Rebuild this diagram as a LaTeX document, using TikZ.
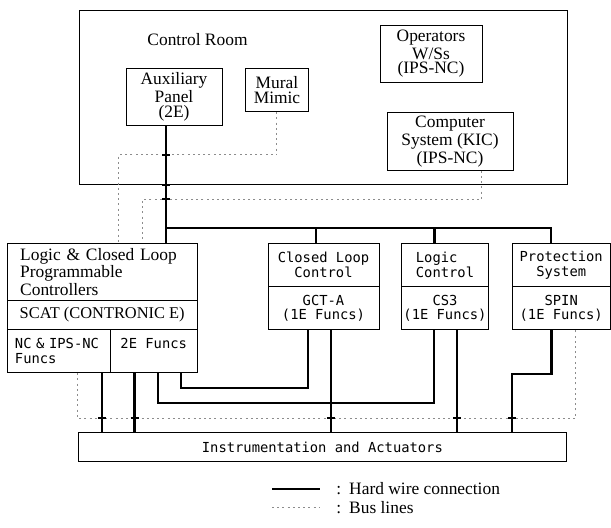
\documentclass[tikz,border=0pt]{standalone}
\usepackage{fontspec}
\setmainfont{Liberation Serif}
\setmonofont{DejaVu Sans Mono}
\usetikzlibrary{calc}
\newcommand{\pxu}{0.5pt}
\newcommand{\serifsize}{\fontsize{8.7}{7.4}\selectfont}
\newcommand{\monosize}{\fontsize{6.9}{7.4}\selectfont\ttfamily}
\newcommand{\panel}[6][]{%
  \node[box, minimum width=#4*\pxu, minimum height=#5*\pxu, #1] (#2) at #3 {#6};
}
\newcommand{\crossmark}[1]{%
  \draw[hardwire] ($#1+(-4,0)$) -- ($#1+(4,0)$);
}

\begin{document}
\begin{tikzpicture}[x=0.5pt, y=-0.5pt,
    box/.style={draw, line width=0.5pt, inner sep=0pt, align=center, font=\serifsize},
    mono/.style={font=\monosize},
    hardwire/.style={line width=1.1pt},
    busline/.style={black!45, line width=0.5pt, dash pattern=on 1pt off 1.6pt}]
  \useasboundingbox (0,0) rectangle (611,528);
  \panel{room}{(323,97.2)}{488}{174.3}{}
  \node[font=\serifsize] (roomlbl) at (197.5,40) {Control Room};
  \panel{ops}{(431,53.9)}{102}{57.7}{Operators\\W/Ss\\(IPS-NC)}
  \panel{aux}{(174,97)}{96}{57.4}{Auxiliary\\Panel\\(2E)}
  \panel{mural}{(277,90)}{63}{43.4}{Mural\\Mimic}
  \panel{kic}{(450,141.3)}{126}{58}{Computer\\System (KIC)\\(IPS-NC)}
  \panel[text width=164*\pxu, align=left]{lclp}{(102.2,271.9)}{190.3}{57.7}{Logic \& Closed Loop\\Programmable\\Controllers}
  \panel[font=\fontsize{8.2}{7.4}\selectfont]{scat}{(102.2,315)}{190.3}{28.6}{SCAT (CONTRONIC E)}
  \panel[mono, text width=87*\pxu, align=left]{ncf}{(58.5,351)}{103}{43.4}{NC \& IPS-NC\\Funcs}
  \panel[mono]{tef}{(153.7,351)}{87.3}{43.4}{2E Funcs\\\mbox{}}
  \panel[mono]{clc}{(323.5,265)}{111}{43.4}{Closed Loop\\Control}
  \panel[mono]{clcf}{(323.5,308.3)}{111}{43.3}{GCT-A\\(1E Funcs)}
  \panel[mono, align=left]{lc}{(445,265)}{86.5}{43.4}{Logic\\Control}
  \panel[mono]{lcf}{(445,308.3)}{86.5}{43.3}{CS3\\(1E Funcs)}
  \panel[mono]{ps}{(561.2,265)}{97.7}{43.4}{Protection\\System}
  \panel[mono]{psf}{(561.2,308.3)}{97.7}{43.3}{SPIN\\(1E Funcs)}
  \panel[mono]{instr}{(322.4,447.3)}{488.2}{29.3}{Instrumentation and Actuators}
  % hard wires
  \coordinate (hw0) at (166,228.3);
  \coordinate (hw1) at (315.7,228.3);
  \coordinate (hw2) at (434.5,228.3);
  \coordinate (hw3) at (550.7,228.3);
  \draw[hardwire] (hw0 |- aux.south) -- (hw0 |- lclp.north);
  \draw[hardwire] (hw0) -- (hw3) -- (hw3 |- ps.north);
  \draw[hardwire] (hw1) -- (hw1 |- clc.north);
  \draw[hardwire] (hw2) -- (hw2 |- lc.north);
  \coordinate (dn1) at (102,418.3);
  \coordinate (dn2) at (134.5,418.3);
  \coordinate (dn3) at (331,418.3);
  \coordinate (dn4) at (457,418.3);
  \coordinate (dn5) at (512.3,418.3);
  \draw[hardwire] (dn1 |- ncf.south) -- (dn1 |- instr.north);
  \draw[hardwire] (dn2 |- tef.south) -- (dn2 |- instr.north);
  \draw[hardwire] (dn3 |- clcf.south) -- (dn3 |- instr.north);
  \draw[hardwire] (dn4 |- lcf.south) -- (dn4 |- instr.north);
  \coordinate (pw1) at (551.4,374.3);
  \coordinate (pw2) at (512.3,374.3);
  \draw[hardwire] (pw1 |- psf.south) -- (pw1) -- (pw2) -- (dn5 |- instr.north);
  \coordinate (lw1) at (157.8,402.7);
  \coordinate (lw2) at (433.8,402.7);
  \draw[hardwire] (lw1 |- tef.south) -- (lw1) -- (lw2) -- (lw2 |- lcf.south);
  \coordinate (cw1) at (181,388.3);
  \coordinate (cw2) at (307.9,388.3);
  \draw[hardwire] (cw1 |- tef.south) -- (cw1) -- (cw2) -- (cw2 |- clcf.south);
  % bus lines
  \coordinate (mb1) at (276.7,155);
  \coordinate (mb2) at (118.3,155);
  \draw[busline] (mb1 |- mural.south) -- (mb1) -- (mb2) -- (mb2 |- lclp.north);
  \coordinate (kb1) at (481.7,199.3);
  \coordinate (kb2) at (142.7,199.3);
  \draw[busline] (kb1 |- kic.south) -- (kb1) -- (kb2) -- (kb2 |- lclp.north);
  \coordinate (fb1) at (77.5,418.3);
  \coordinate (fb2) at (575.7,418.3);
  \draw[busline] (fb1 |- ncf.south) -- (fb1) -- (fb2) -- (fb2 |- psf.south);
  \crossmark{(hw0 |- mb1)}
  \crossmark{(hw0 |- room.south)}
  \crossmark{(hw0 |- kb1)}
  \crossmark{(dn1)}
  \crossmark{(dn2)}
  \crossmark{(dn3)}
  \crossmark{(dn4)}
  \crossmark{(dn5)}
  % legend
  \coordinate (lgh1) at (272,489);
  \coordinate (lgh2) at (320,489);
  \draw[hardwire] (lgh1) -- (lgh2);
  \node[anchor=west, inner sep=0pt, font=\serifsize] (lghtxt) at (336,489) {:\hspace{4pt}Hard wire connection};
  \coordinate (lgb1) at (272,508);
  \coordinate (lgb2) at (320,508);
  \draw[busline] (lgb1) -- (lgb2);
  \node[anchor=west, inner sep=0pt, font=\serifsize] (lgbtxt) at (336,508) {:\hspace{4pt}Bus lines};
\end{tikzpicture}
\end{document}
